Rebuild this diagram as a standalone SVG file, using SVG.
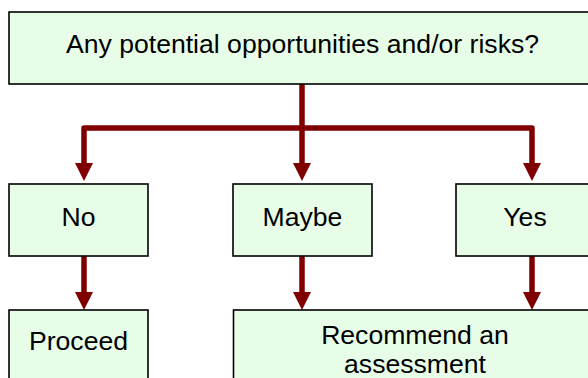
<svg xmlns="http://www.w3.org/2000/svg" width="588" height="378" viewBox="0 0 588 378">
  <style>
    .box { fill: #e8fde8; stroke: #000000; stroke-width: 1.6; }
    .lbl { font-family: "Liberation Sans", Arial, sans-serif; font-size: 26.6px; fill: #000000; text-anchor: middle; }
    .wire { fill: none; stroke: #800000; stroke-width: 5.5; stroke-linejoin: round; }
    .head { fill: #800000; }
  </style>
  <rect width="588" height="378" fill="#ffffff"/>

  <g id="connectors">
    <!-- trunk and branch bar -->
    <path class="wire" d="M302 84 L302 128"/>
    <path class="wire" d="M84 164 L84 128 L532 128 L532 164"/>
    <path class="wire" d="M302 128 L302 164"/>
    <!-- lower links -->
    <path class="wire" d="M84 256 L84 293"/>
    <path class="wire" d="M302 256 L302 293"/>
    <path class="wire" d="M532 256 L532 293"/>
    <!-- arrowheads -->
    <polygon class="head" points="75,163 93,163 84,181"/>
    <polygon class="head" points="293,163 311,163 302,181"/>
    <polygon class="head" points="523,163 541,163 532,181"/>
    <polygon class="head" points="75,292 93,292 84,310"/>
    <polygon class="head" points="293,292 311,292 302,310"/>
    <polygon class="head" points="523,292 541,292 532,310"/>
  </g>

  <g id="question">
    <rect class="box" x="9" y="12" width="590" height="72"/>
    <text class="lbl" x="302.5" y="53">Any potential opportunities and/or risks?</text>
  </g>

  <g id="no">
    <rect class="box" x="9" y="184" width="139" height="72"/>
    <text class="lbl" x="78.5" y="226">No</text>
  </g>

  <g id="maybe">
    <rect class="box" x="233" y="184" width="139" height="72"/>
    <text class="lbl" x="302.5" y="226">Maybe</text>
  </g>

  <g id="yes">
    <rect class="box" x="456" y="184" width="139" height="72"/>
    <text class="lbl" x="525" y="226">Yes</text>
  </g>

  <g id="proceed">
    <rect class="box" x="9" y="310" width="139" height="80"/>
    <text class="lbl" x="78.5" y="350">Proceed</text>
  </g>

  <g id="assess">
    <rect class="box" x="233.5" y="310" width="370" height="80"/>
    <text class="lbl" x="415" y="344">Recommend an</text>
    <text class="lbl" x="415" y="373">assessment</text>
  </g>
</svg>
